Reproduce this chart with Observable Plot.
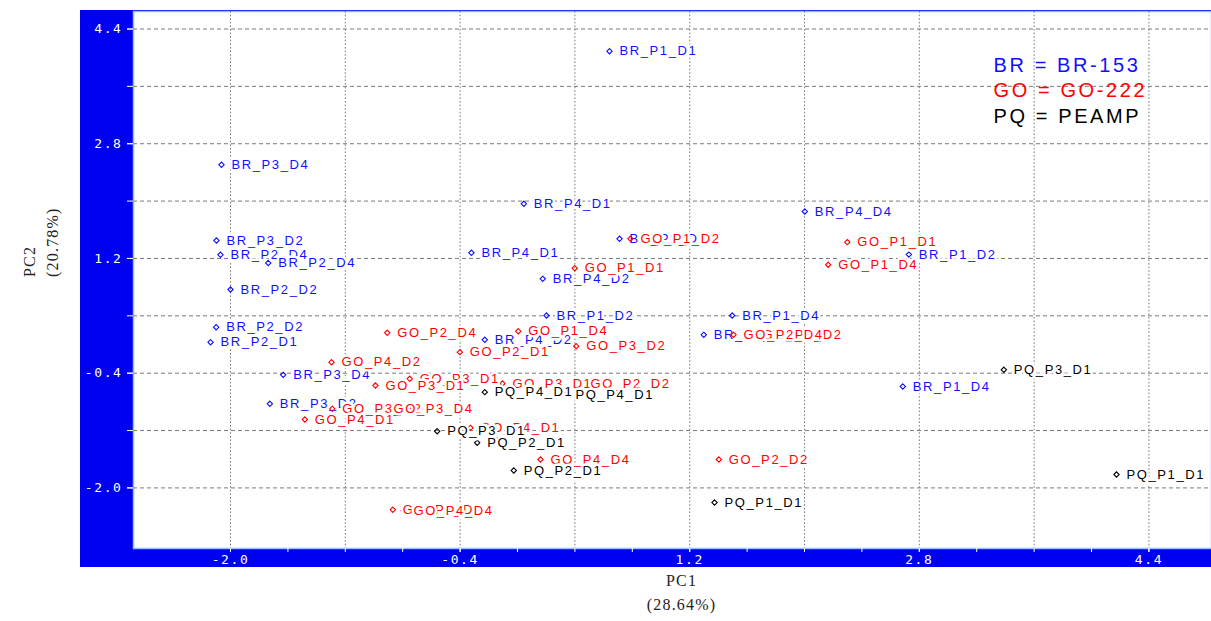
<!DOCTYPE html>
<html>
<head>
<meta charset="utf-8">
<script src="https://cdn.jsdelivr.net/npm/d3@7"></script>
<script src="https://cdn.jsdelivr.net/npm/@observablehq/plot@0.6"></script>
<style>
  html, body { margin: 0; padding: 0; background: #fff; }
  #wrap { position: relative; width: 1211px; height: 621px; overflow: hidden; }
  #band { position: absolute; left: 80px; top: 10px; width: 1131px; height: 557px; background: #0000f0; }
  #chart { position: absolute; left: 0; top: 0; }
</style>
</head>
<body>
<div id="wrap"><div id="band"></div><div id="chart"></div></div>
<script>
// ---- data (PC1, PC2 scores) ----
const groups = ["BR", "GO", "PQ"];
const groupColors = ["#1010ff", "#ff0000", "#000000"];

const brLabels = ["BR_P1_D1","BR_P3_D4","BR_P3_D2","BR_P2_D4","BR_P2_D4","BR_P2_D2","BR_P2_D2","BR_P2_D1","BR_P3_D4","BR_P3_D2","BR_P4_D1","BR_P4_D1","BR_P1_D1","BR_P4_D2","BR_P1_D2","BR_P4_D2","BR_P1_D4","BR_P2_D1","BR_P4_D4","BR_P1_D2","BR_P1_D4"];
const brPC1 = [0.641,-2.063,-2.098,-2.070,-1.737,-2.000,-2.100,-2.139,-1.633,-1.726,0.044,-0.321,0.711,0.176,0.202,-0.228,1.496,1.298,2.002,2.727,2.685];
const brPC2 = [4.090,2.506,1.450,1.251,1.137,0.767,0.241,0.032,-0.423,-0.827,1.962,1.279,1.474,0.916,0.404,0.066,0.404,0.135,1.855,1.255,-0.586];

const goLabels = ["GO_P1_D2","GO_P1_D1","GO_P1_D1","GO_P1_D4","GO_P2_D4","GO_P1_D4","GO_P3_D2","GO_P2_D1","GO_P4_D2","GO_P3_D1","GO_P3_D1","GO_P3_D1","GO_P2_D2","GO_P3_D2","GO_P3_D4","GO_P4_D1","GO_P4_D1","GO_P4_D4","GO_P2_D2","GO_P1_D2","GO_P2_D4","GO_P4_D2","GO_P4_D4"];
const goPC1 = [0.787,0.399,2.298,2.165,-0.908,0.005,0.409,-0.402,-1.296,-0.751,-0.990,-0.105,0.439,-1.291,-0.934,-1.482,-0.328,0.160,1.403,1.638,1.505,-0.869,-0.794];
const goPC2 = [1.474,1.064,1.427,1.112,0.163,0.185,-0.024,-0.107,-0.247,-0.478,-0.572,-0.544,-0.544,-0.897,-0.897,-1.046,-1.162,-1.604,-1.604,0.135,0.135,-2.305,-2.315];

const pqLabels = ["PQ_P3_D1","PQ_P1_D1","PQ_P1_D1","PQ_P4_D1","PQ_P4_D1","PQ_P3_D1","PQ_P2_D1","PQ_P2_D1"];
const pqPC1 = [3.389,4.174,1.373,-0.228,0.334,-0.560,-0.281,-0.026];
const pqPC2 = [-0.353,-1.813,-2.204,-0.665,-0.702,-1.209,-1.371,-1.757];

const legendLines = ["BR = BR-153", "GO = GO-222", "PQ = PEAMP"];
const xTitle = "PC1\n(28.64%)";
const yTitle = "PC2\n(20.78%)";

const xLabelTicks = [-2.0, -0.4, 1.2, 2.8, 4.4];
const xMinorTicks = [-2.0,-1.6,-1.2,-0.8,-0.4,0,0.4,0.8,1.2,1.6,2.0,2.4,2.8,3.2,3.6,4.0,4.4];
const xGrid = [-2.0,-1.2,-0.4,0.4,1.2,2.0,2.8,3.6,4.4];
const yLabelTicks = [4.4, 2.8, 1.2, -0.4, -2.0];
const yGrid = [4.4,3.6,2.8,2.0,1.2,0.4,-0.4,-1.2,-2.0];

// ---- build table ----
function rows(g, labels, xs, ys) {
  return labels.map((l, i) => ({group: g, label: l, pc1: xs[i], pc2: ys[i]}));
}
const sets = [rows("BR", brLabels, brPC1, brPC2), rows("GO", goLabels, goPC1, goPC2), rows("PQ", pqLabels, pqPC1, pqPC2)];

const labelFont = "'Liberation Sans', Arial, sans-serif";
const monoFont = "'DejaVu Sans Mono', monospace";
const serifFont = "'Liberation Serif', 'DejaVu Serif', serif";

const pointMarks = sets.flatMap((data, gi) => [
  Plot.dot(data, {x: "pc1", y: "pc2", symbol: "diamond2", r: 2.4, stroke: groupColors[gi], strokeWidth: 1.1}),
  Plot.text(data, {x: "pc1", y: "pc2", text: "label", dx: 10, textAnchor: "start", fill: groupColors[gi],
    fontSize: 13, fontFamily: labelFont, stroke: "white", strokeWidth: 5, strokeLinejoin: "round"})
]);

const legendMarks = legendLines.map((line, i) =>
  Plot.text([line], {frameAnchor: "top-left", text: d => d, dx: 860, dy: 54 + i * 25.5,
    fill: groupColors[i], fontSize: 20, fontFamily: labelFont, textAnchor: "start", lineAnchor: "middle"})
);

const chart = Plot.plot({
  width: 1211,
  height: 621,
  marginLeft: 133,
  marginRight: 0,
  marginTop: 11,
  marginBottom: 73,
  style: {background: "transparent", overflow: "visible"},
  x: {domain: [-2.676, 4.836]},
  y: {domain: [-2.845, 4.644]},
  marks: [
    Plot.frame({fill: "white", stroke: "#8fc0ff", strokeWidth: 1.5}),
    Plot.gridX(xGrid, {stroke: "#7a7a7a", strokeOpacity: 1, strokeDasharray: "1.6,2"}),
    Plot.gridY(yGrid, {stroke: "#7a7a7a", strokeOpacity: 1, strokeDasharray: "4,3"}),
    Plot.axisX(xMinorTicks, {tickSize: 4, tickFormat: () => "", stroke: "white", label: null}),
    Plot.axisX(xLabelTicks, {tickSize: 4, tickPadding: 2, tickFormat: d => d.toFixed(1), stroke: "white", fill: "white",
      fontSize: 13, fontFamily: monoFont, label: null}),
    Plot.axisY(yGrid, {tickSize: 6, tickFormat: () => "", stroke: "white", label: null}),
    Plot.axisY(yLabelTicks, {tickSize: 6, tickPadding: 5, tickFormat: d => d.toFixed(1), stroke: "white", fill: "white",
      fontSize: 13, fontFamily: monoFont, label: null}),
    ...pointMarks,
    ...legendMarks,
    Plot.text([xTitle], {frameAnchor: "bottom", text: d => d, dx: 9, dy: 42, lineAnchor: "middle", lineHeight: 1.45,
      fontSize: 16, fontFamily: serifFont, fill: "#222"}),
    Plot.text([yTitle], {frameAnchor: "left", text: d => d, dx: -94, dy: -3, rotate: -90, lineAnchor: "middle", lineHeight: 1.4,
      fontSize: 16, fontFamily: serifFont, fill: "#222"})
  ]
});

const svg = d3.select(chart);
svg.selectAll("g[aria-label='text'] text").style("letter-spacing", function() {
  const fs = parseFloat(d3.select(this.parentNode).attr("font-size") || this.getAttribute("font-size") || 13);
  return fs >= 20 ? "2.6px" : fs >= 16 ? "1.2px" : "1.6px";
});
svg.selectAll("g[aria-label='x-axis tick label'] text, g[aria-label='y-axis tick label'] text").style("letter-spacing", "1.6px");

document.getElementById("chart").appendChild(chart);
</script>
</body>
</html>
